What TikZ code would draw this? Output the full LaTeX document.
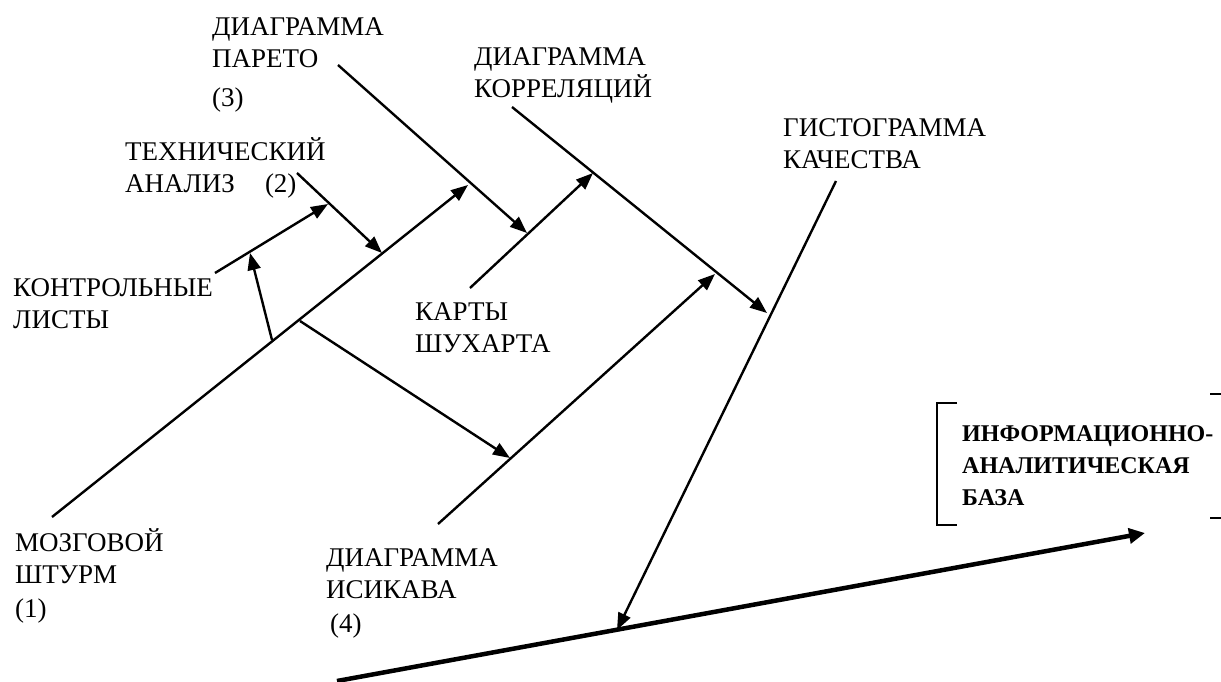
\documentclass[tikz,border=0pt]{standalone}
\usepackage{fontspec}
\setmainfont{Liberation Serif}
\usetikzlibrary{arrows.meta}
\tikzset{
  lbl/.style={anchor=base west,inner sep=0pt,align=left,font=\fontsize{27}{32}\selectfont},
  boldlbl/.style={lbl,font=\fontsize{24}{32}\selectfont\bfseries},
  branch/.style={line width=2.4pt,-{Triangle[length=17pt,width=13pt]}},
  spine/.style={line width=4.5pt,-{Triangle[length=16pt,width=15pt]}},
  frame/.style={line width=1.2pt}
}
\begin{document}
\begin{tikzpicture}[x=1pt,y=-1pt,line join=miter]
\useasboundingbox (0,0) rectangle (1221,682);
% end points of the branches
\coordinate (bs-a) at (52,517);   \coordinate (bs-b) at (468,185);
\coordinate (ta-a) at (297,173);  \coordinate (ta-b) at (382,253);
\coordinate (cl-a) at (215,273);  \coordinate (cl-b) at (328,204);
\coordinate (up-a) at (272,340);  \coordinate (up-b) at (250,253);
\coordinate (ib-a) at (300,321);  \coordinate (ib-b) at (510,458);
\coordinate (pa-a) at (338,65);   \coordinate (pa-b) at (527,233);
\coordinate (sh-a) at (470,288);  \coordinate (sh-b) at (593,173);
\coordinate (is-a) at (438,524);  \coordinate (is-b) at (715,274);
\coordinate (co-a) at (512,107);  \coordinate (co-b) at (767,313);
\coordinate (hi-a) at (836,181);  \coordinate (hi-b) at (617,630);
\coordinate (mn-a) at (337,681);  \coordinate (mn-b) at (1145,533);
% labels (placed by the baseline of their last line)
\node[lbl] (pareto) at (212,107) {ДИАГРАММА\\ПАРЕТО\\[7pt](3)};
\node[lbl] (tech) at (125,192) {ТЕХНИЧЕСКИЙ\\АНАЛИЗ\hspace{30pt}(2)};
\node[lbl] (ctrl) at (13,328) {КОНТРОЛЬНЫЕ\\ЛИСТЫ};
\node[lbl] (brain) at (15,617) {МОЗГОВОЙ\\ШТУРМ\\[2pt](1)};
\node[lbl] (corr) at (474,98) {ДИАГРАММА\\КОРРЕЛЯЦИЙ};
\node[lbl] (shew) at (415,352) {КАРТЫ\\ШУХАРТА};
\node[lbl] (ishi) at (326,632) {ДИАГРАММА\\ИСИКАВА\\[2pt]\hspace{4pt}(4)};
\node[lbl] (hist) at (783,168) {ГИСТОГРАММА\\КАЧЕСТВА};
\node[boldlbl] (base) at (962,505) {ИНФОРМАЦИОННО-\\АНАЛИТИЧЕСКАЯ\\БАЗА};
% bracket round the base
\draw[frame] (957,403) -- (937,403) -- (937,525) -- (957,525);
\draw[frame] (1210,394) -- (1221,394);
\draw[frame] (1210,518) -- (1221,518);
% branches
\draw[branch] (bs-a) -- (bs-b);
\draw[branch] (ta-a) -- (ta-b);
\draw[branch] (cl-a) -- (cl-b);
\draw[branch] (up-a) -- (up-b);
\draw[branch] (ib-a) -- (ib-b);
\draw[branch] (pa-a) -- (pa-b);
\draw[branch] (sh-a) -- (sh-b);
\draw[branch] (is-a) -- (is-b);
\draw[branch] (co-a) -- (co-b);
\draw[branch] (hi-a) -- (hi-b);
\draw[spine] (mn-a) -- (mn-b);
\end{tikzpicture}
\end{document}
